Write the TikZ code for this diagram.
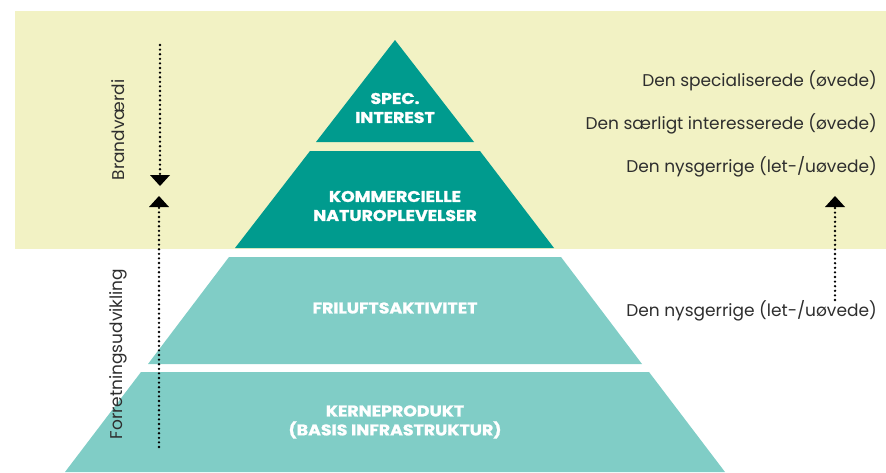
\documentclass[tikz,border=0pt]{standalone}
\usepackage{fontspec}
\setmainfont{Poppins}
\newfontfamily\tierfont[FakeStretch=1.12, FakeBold=1.2]{Poppins}
\usetikzlibrary{arrows.meta, positioning}

\definecolor{bandyellow}{HTML}{F2F2C4}
\definecolor{tealdark}{HTML}{009B8E}
\definecolor{teallight}{HTML}{80CDC6}
\definecolor{textgray}{HTML}{2E2E2E}

\begin{document}
\begin{tikzpicture}[
    x=1pt, y=-1pt,
    tier/.style={font=\tierfont\bfseries\fontsize{15.5}{19}\selectfont, text=white, align=center},
    side/.style={font=\fontsize{17}{20}\selectfont, text=textgray, inner sep=0pt},
    dotline/.style={line width=2.6pt, line cap=round, dash pattern=on 0pt off 4.6pt},
    tip/.style={-{Triangle[width=20pt, length=11pt, line width=0pt]}}
]
    \useasboundingbox (0,0) rectangle (886,472);

    % Band behind the upper part
    \fill[bandyellow] (15,11) rectangle (886,249);

    % Pyramid tiers
    \fill[tealdark]  (395,40)  -- (474,142) -- (316,142) -- cycle;
    \fill[tealdark]  (310,151) -- (480,151) -- (554,248) -- (235,248) -- cycle;
    \fill[teallight] (229,257) -- (561,257) -- (642,364) -- (148,364) -- cycle;
    \fill[teallight] (141,372) -- (649,372) -- (725,472) -- (65,472)  -- cycle;

    \node[tier] (spec) at (395,108) {SPEC.\\INTEREST};
    \node[tier] (komm) at (395,206) {KOMMERCIELLE\\NATUROPLEVELSER};
    \node[tier] (fril) at (395,308) {FRILUFTSAKTIVITET};
    \node[tier] (kern) at (395,422) {KERNEPRODUKT\\(BASIS INFRASTRUKTUR)};

    % Target groups
    \node[side, anchor=east] (specialiserede) at (877,81)  {Den specialiserede (øvede)};
    \node[side, anchor=east] (saerligt)       at (877,124) {Den særligt interesserede (øvede)};
    \node[side, anchor=east] (nysgerrig)      at (877,167) {Den nysgerrige (let-/uøvede)};
    \node[side, anchor=east] (nysgerrignede)  at (877,311) {Den nysgerrige (let-/uøvede)};

    % Axes
    \node[side, rotate=90] (brand) at (118,130) {Brandværdi};
    \node[side, rotate=90] (forret) at (118,354) {Forretningsudvikling};

    \coordinate (brandtop) at (160,45);
    \coordinate (brandtip) at (160,186);
    \coordinate (forretbund) at (159,447);
    \coordinate (forrettip) at (159,196);
    \coordinate (nysbund) at (835,300);
    \coordinate (nystip) at (835,196);

    \draw[dotline, tip] (brandtop) -- (brandtip);
    \draw[dotline, tip] (forretbund) -- (forrettip);
    \draw[dotline, tip] (nysbund) -- (nystip);

\end{tikzpicture}
\end{document}
